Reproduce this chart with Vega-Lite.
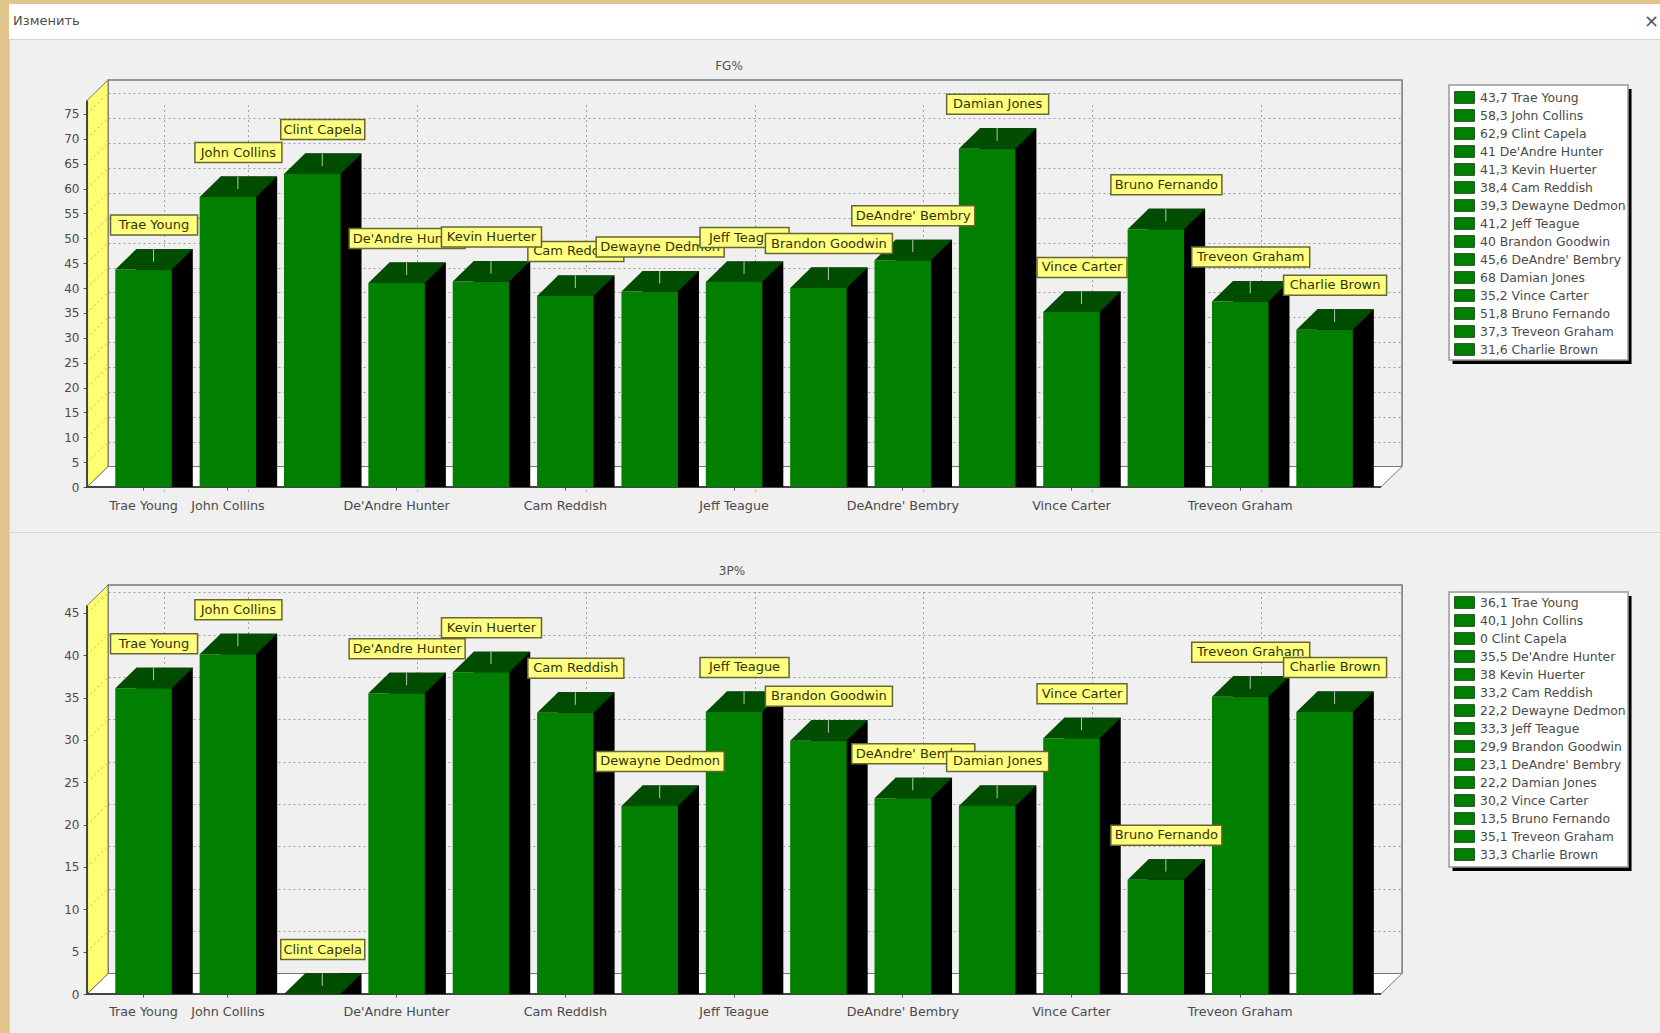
{
"$schema":"https://vega.github.io/schema/vega-lite/v6.json",
"background":"#e2c48d",
"padding":{"left":8,"top":4,"right":0,"bottom":0},
"bounds":"flush",
"spacing":0,
"config":{"font":"DejaVu Sans","axis":{"labelFont":"DejaVu Sans","labelFontSize":12,"labelColor":"#4a4a4a"},"legend":{"labelFont":"DejaVu Sans"}},
"datasets":{
"fg":[
{"player":"Trae Young","value":43.7,"entry":"43,7 Trae Young"},
{"player":"John Collins","value":58.3,"entry":"58,3 John Collins"},
{"player":"Clint Capela","value":62.9,"entry":"62,9 Clint Capela"},
{"player":"De'Andre Hunter","value":41,"entry":"41 De'Andre Hunter"},
{"player":"Kevin Huerter","value":41.3,"entry":"41,3 Kevin Huerter"},
{"player":"Cam Reddish","value":38.4,"entry":"38,4 Cam Reddish"},
{"player":"Dewayne Dedmon","value":39.3,"entry":"39,3 Dewayne Dedmon"},
{"player":"Jeff Teague","value":41.2,"entry":"41,2 Jeff Teague"},
{"player":"Brandon Goodwin","value":40,"entry":"40 Brandon Goodwin"},
{"player":"DeAndre' Bembry","value":45.6,"entry":"45,6 DeAndre' Bembry"},
{"player":"Damian Jones","value":68,"entry":"68 Damian Jones"},
{"player":"Vince Carter","value":35.2,"entry":"35,2 Vince Carter"},
{"player":"Bruno Fernando","value":51.8,"entry":"51,8 Bruno Fernando"},
{"player":"Treveon Graham","value":37.3,"entry":"37,3 Treveon Graham"},
{"player":"Charlie Brown","value":31.6,"entry":"31,6 Charlie Brown"}
],
"tp":[
{"player":"Trae Young","value":36.1,"entry":"36,1 Trae Young"},
{"player":"John Collins","value":40.1,"entry":"40,1 John Collins"},
{"player":"Clint Capela","value":0,"entry":"0 Clint Capela"},
{"player":"De'Andre Hunter","value":35.5,"entry":"35,5 De'Andre Hunter"},
{"player":"Kevin Huerter","value":38,"entry":"38 Kevin Huerter"},
{"player":"Cam Reddish","value":33.2,"entry":"33,2 Cam Reddish"},
{"player":"Dewayne Dedmon","value":22.2,"entry":"22,2 Dewayne Dedmon"},
{"player":"Jeff Teague","value":33.3,"entry":"33,3 Jeff Teague"},
{"player":"Brandon Goodwin","value":29.9,"entry":"29,9 Brandon Goodwin"},
{"player":"DeAndre' Bembry","value":23.1,"entry":"23,1 DeAndre' Bembry"},
{"player":"Damian Jones","value":22.2,"entry":"22,2 Damian Jones"},
{"player":"Vince Carter","value":30.2,"entry":"30,2 Vince Carter"},
{"player":"Bruno Fernando","value":13.5,"entry":"13,5 Bruno Fernando"},
{"player":"Treveon Graham","value":35.1,"entry":"35,1 Treveon Graham"},
{"player":"Charlie Brown","value":33.3,"entry":"33,3 Charlie Brown"}
],
"bar":[{"pos":0,"label":"Изменить"},{"pos":1,"label":"×"}]
},
"resolve":{"scale":{"color":"independent","size":"independent"},"legend":{"color":"independent"}},
"vconcat":[
{
"width":1652,"height":35,
"view":{"fill":"#ffffff","stroke":null},
"data":{"name":"bar"},
"encoding":{"x":{"field":"pos","type":"quantitative","scale":{"domain":[0,1],"nice":false},"axis":null},"text":{"field":"label"}},
"layer":[
{"transform":[{"filter":"datum.pos==0"}],"mark":{"type":"text","align":"left","dx":4,"dy":-1,"fontSize":13,"color":"#505050"}},
{"transform":[{"filter":"datum.pos==1"}],"mark":{"type":"text","align":"right","dx":-2,"fontSize":18,"color":"#505050"}}
]
},
{
"width":1652,"height":493,
"view":{"fill":"#f0f0f0","stroke":"#d4d4d4"},
"title":{"text":"FG%","frame":"group","anchor":"middle","dx":-106,"offset":-34,"fontSize":12,"fontWeight":"normal","color":"#505050"},
"data":{"name":"fg"},
"resolve":{"scale":{"x":"independent","y":"independent"},"axis":{"x":"independent","y":"independent"}},
"layer":[
{
"transform":[{"filter":"datum.player=='Trae Young'"}],
"mark":{"type":"point","shape":"M-56.5,0V-386.5H1237.5V0","size":4,"filled":false,"stroke":"#777777","strokeWidth":1.5,"opacity":1},
"encoding":{
"x":{"field":"player","type":"nominal","scale":{"type":"band","domain":["Trae Young","John Collins","Clint Capela","De'Andre Hunter","Kevin Huerter","Cam Reddish","Dewayne Dedmon","Jeff Teague","Brandon Goodwin","DeAndre' Bembry","Damian Jones","Vince Carter","Bruno Fernando","Treveon Graham","Charlie Brown"],"range":[99,1393],"paddingInner":0.33,"paddingOuter":0.3345,"align":0.502},"axis":{"orient":"bottom","grid":true,"gridColor":"#a0a0a0","gridDash":[2,3],"domain":false,"ticks":false,"labels":false,"title":null,"values":["Trae Young","John Collins","De'Andre Hunter","Cam Reddish","Jeff Teague","DeAndre' Bembry","Vince Carter","Treveon Graham"]}},
"y":{"datum":0,"type":"quantitative","scale":{"domain":[0,77.7],"range":[427.5,41],"nice":false},"axis":{"orient":"left","grid":true,"gridColor":"#a0a0a0","gridDash":[2,3],"domain":false,"ticks":false,"labels":false,"title":null,"values":[0,5,10,15,20,25,30,35,40,45,50,55,60,65,70,75]}}
}
},
{
"encoding":{
"x":{"field":"player","type":"nominal","scale":{"type":"band","domain":["Trae Young","John Collins","Clint Capela","De'Andre Hunter","Kevin Huerter","Cam Reddish","Dewayne Dedmon","Jeff Teague","Brandon Goodwin","DeAndre' Bembry","Damian Jones","Vince Carter","Bruno Fernando","Treveon Graham","Charlie Brown"],"range":[99,1393],"paddingInner":0.33,"paddingOuter":0.3345,"align":0.129},"axis":{"orient":"bottom","offset":-45,"domain":false,"tickSize":3,"tickColor":"#555555","labelAngle":0,"labelPadding":9,"labelFontSize":12.7,"labelOverlap":false,"labelLimit":0,"title":null,"values":["Trae Young","John Collins","De'Andre Hunter","Cam Reddish","Jeff Teague","DeAndre' Bembry","Vince Carter","Treveon Graham"]}},
"y":{"field":"value","type":"quantitative","stack":null,"scale":{"domain":[0,77.7],"range":[448,61.5],"nice":false},"axis":{"orient":"left","offset":-78,"domain":false,"grid":false,"tickSize":4,"tickColor":"#555555","labelPadding":4,"title":null,"values":[0,5,10,15,20,25,30,35,40,45,50,55,60,65,70,75]}}
},
"layer":[
{"transform":[{"filter":"datum.player=='Trae Young'"}],"mark":{"type":"point","shape":"M-56.5,0H1237.5L1258.5,-20.5H-35.5Z","size":4,"filled":true,"fill":"#ffffff","stroke":"#777777","strokeWidth":1,"opacity":1},"encoding":{"y":{"datum":0,"type":"quantitative"}}},
{"transform":[{"filter":"datum.player=='Trae Young'"}],"mark":{"type":"point","shape":"M-56.5,0L-35.5,-20.5V-407L-56.5,-386.5Z","size":4,"filled":true,"fill":"#ffff70","stroke":"#777777","strokeWidth":1,"opacity":1},"encoding":{"y":{"datum":0,"type":"quantitative"}}},
{"transform":[{"filter":"datum.player=='Trae Young'"}],"mark":{"type":"point","shape":"M-56.5,-24.9l21,-20.5M-56.5,-49.8l21,-20.5M-56.5,-74.6l21,-20.5M-56.5,-99.5l21,-20.5M-56.5,-124.4l21,-20.5M-56.5,-149.3l21,-20.5M-56.5,-174.2l21,-20.5M-56.5,-199l21,-20.5M-56.5,-223.9l21,-20.5M-56.5,-248.8l21,-20.5M-56.5,-273.7l21,-20.5M-56.5,-298.6l21,-20.5M-56.5,-323.4l21,-20.5M-56.5,-348.3l21,-20.5M-56.5,-373.2l21,-20.5","size":4,"filled":false,"stroke":"#b9b94a","strokeWidth":1,"strokeDash":[2,3],"opacity":1},"encoding":{"y":{"datum":0,"type":"quantitative"}}},
{"transform":[{"filter":"datum.player=='Trae Young'"}],"mark":{"type":"point","shape":"M-56.5,-386.5V0H1237.5","size":4,"filled":false,"stroke":"#444444","strokeWidth":2,"opacity":1},"encoding":{"y":{"datum":0,"type":"quantitative"}}},
{"transform":[{"filter":"datum.player=='Trae Young'"}],"mark":{"type":"point","shape":"M1309,-398H1488V-123H1309Z","size":4,"filled":true,"fill":"#000000","strokeWidth":0,"opacity":1},"encoding":{"y":{"datum":0,"type":"quantitative"}}},
{"transform":[{"filter":"datum.player=='Trae Young'"}],"mark":{"type":"point","shape":"M1305.5,-402H1484.5V-127H1305.5Z","size":4,"filled":true,"fill":"#ffffff","stroke":"#999999","strokeWidth":1.5,"opacity":1},"encoding":{"y":{"datum":0,"type":"quantitative"}}},
{"mark":{"type":"bar","fill":"#000000","xOffset":21,"yOffset":-20.5}},
{"mark":{"type":"point","shape":"M28.25,0L49.25,-20.5H28.25Z","size":4,"filled":true,"fill":"#000000","strokeWidth":0,"opacity":1},"encoding":{"y":{"datum":0,"type":"quantitative"}}},
{"mark":{"type":"bar"},"encoding":{"color":{"field":"entry","type":"nominal","sort":null,"scale":{"range":["#007f00"]},"legend":{"orient":"none","legendX":1446,"legendY":49,"title":null,"padding":0,"columns":1,"symbolType":"M-1.1,-0.65H1.1V0.65H-1.1Z","symbolSize":324,"symbolStrokeColor":"#1c4d1c","symbolStrokeWidth":1,"symbolOpacity":1,"labelOffset":6,"labelFontSize":12.4,"labelColor":"#4a4a4a","rowPadding":0,"labelLimit":170}}}},
{"mark":{"type":"point","shape":"M-28.25,0L-7.25,-20.5H49.25L28.25,0Z","size":4,"filled":true,"fill":"#004d00","strokeWidth":0,"opacity":1}},
{"mark":{"type":"point","shape":"M10,-20.5V-8","size":4,"filled":false,"stroke":"#b5c8b5","strokeWidth":1,"opacity":1}},
{"transform":[{"filter":{"field":"player","oneOf":["John Collins","De'Andre Hunter","Cam Reddish","DeAndre' Bembry","Vince Carter","Treveon Graham"]}}],"mark":{"type":"tick","thickness":20,"fill":"#ffff80","stroke":"#666633","strokeWidth":1.5,"opacity":1,"xOffset":10.5,"yOffset":-44.5},"encoding":{"size":{"field":"player","type":"nominal","legend":null,"scale":{"type":"ordinal","domain":["Trae Young","John Collins","Clint Capela","De'Andre Hunter","Kevin Huerter","Cam Reddish","Dewayne Dedmon","Jeff Teague","Brandon Goodwin","DeAndre' Bembry","Damian Jones","Vince Carter","Bruno Fernando","Treveon Graham","Charlie Brown"],"range":[87,87,84,116,100,96,128,89,127,123,102,90,111,118,103]}}}},
{"transform":[{"filter":{"field":"player","oneOf":["John Collins","De'Andre Hunter","Cam Reddish","DeAndre' Bembry","Vince Carter","Treveon Graham"]}}],"mark":{"type":"text","dx":10.5,"dy":-44.5,"fontSize":13,"color":"#333300"},"encoding":{"text":{"field":"player"}}},
{"transform":[{"filter":{"field":"player","oneOf":["Trae Young","Clint Capela","Kevin Huerter","Dewayne Dedmon","Damian Jones","Bruno Fernando","Charlie Brown"]}}],"mark":{"type":"tick","thickness":20,"fill":"#ffff80","stroke":"#666633","strokeWidth":1.5,"opacity":1,"xOffset":10.5,"yOffset":-44.5},"encoding":{"size":{"field":"player","type":"nominal","legend":null,"scale":{"type":"ordinal","domain":["Trae Young","John Collins","Clint Capela","De'Andre Hunter","Kevin Huerter","Cam Reddish","Dewayne Dedmon","Jeff Teague","Brandon Goodwin","DeAndre' Bembry","Damian Jones","Vince Carter","Bruno Fernando","Treveon Graham","Charlie Brown"],"range":[87,87,84,116,100,96,128,89,127,123,102,90,111,118,103]}}}},
{"transform":[{"filter":{"field":"player","oneOf":["Trae Young","Clint Capela","Kevin Huerter","Dewayne Dedmon","Damian Jones","Bruno Fernando","Charlie Brown"]}}],"mark":{"type":"text","dx":10.5,"dy":-44.5,"fontSize":13,"color":"#333300"},"encoding":{"text":{"field":"player"}}},
{"transform":[{"filter":{"field":"player","oneOf":["Jeff Teague"]}}],"mark":{"type":"tick","thickness":20,"fill":"#ffff80","stroke":"#666633","strokeWidth":1.5,"opacity":1,"xOffset":10.5,"yOffset":-44.5},"encoding":{"size":{"field":"player","type":"nominal","legend":null,"scale":{"type":"ordinal","domain":["Trae Young","John Collins","Clint Capela","De'Andre Hunter","Kevin Huerter","Cam Reddish","Dewayne Dedmon","Jeff Teague","Brandon Goodwin","DeAndre' Bembry","Damian Jones","Vince Carter","Bruno Fernando","Treveon Graham","Charlie Brown"],"range":[87,87,84,116,100,96,128,89,127,123,102,90,111,118,103]}}}},
{"transform":[{"filter":{"field":"player","oneOf":["Jeff Teague"]}}],"mark":{"type":"text","dx":10.5,"dy":-44.5,"fontSize":13,"color":"#333300"},"encoding":{"text":{"field":"player"}}},
{"transform":[{"filter":{"field":"player","oneOf":["Brandon Goodwin"]}}],"mark":{"type":"tick","thickness":20,"fill":"#ffff80","stroke":"#666633","strokeWidth":1.5,"opacity":1,"xOffset":10.5,"yOffset":-44.5},"encoding":{"size":{"field":"player","type":"nominal","legend":null,"scale":{"type":"ordinal","domain":["Trae Young","John Collins","Clint Capela","De'Andre Hunter","Kevin Huerter","Cam Reddish","Dewayne Dedmon","Jeff Teague","Brandon Goodwin","DeAndre' Bembry","Damian Jones","Vince Carter","Bruno Fernando","Treveon Graham","Charlie Brown"],"range":[87,87,84,116,100,96,128,89,127,123,102,90,111,118,103]}}}},
{"transform":[{"filter":{"field":"player","oneOf":["Brandon Goodwin"]}}],"mark":{"type":"text","dx":10.5,"dy":-44.5,"fontSize":13,"color":"#333300"},"encoding":{"text":{"field":"player"}}}
]
}
]
},
{
"width":1652,"height":501,
"view":{"fill":"#f0f0f0","stroke":"#d4d4d4"},
"title":{"text":"3P%","frame":"group","anchor":"middle","dx":-103,"offset":-46,"fontSize":12,"fontWeight":"normal","color":"#505050"},
"data":{"name":"tp"},
"resolve":{"scale":{"x":"independent","y":"independent"},"axis":{"x":"independent","y":"independent"}},
"layer":[
{
"transform":[{"filter":"datum.player=='Trae Young'"}],
"mark":{"type":"point","shape":"M-56.5,0V-388.5H1237.5V0","size":4,"filled":false,"stroke":"#777777","strokeWidth":1.5,"opacity":1},
"encoding":{
"x":{"field":"player","type":"nominal","scale":{"type":"band","domain":["Trae Young","John Collins","Clint Capela","De'Andre Hunter","Kevin Huerter","Cam Reddish","Dewayne Dedmon","Jeff Teague","Brandon Goodwin","DeAndre' Bembry","Damian Jones","Vince Carter","Bruno Fernando","Treveon Graham","Charlie Brown"],"range":[99,1393],"paddingInner":0.33,"paddingOuter":0.3345,"align":0.502},"axis":{"orient":"bottom","grid":true,"gridColor":"#a0a0a0","gridDash":[2,3],"domain":false,"ticks":false,"labels":false,"title":null,"values":["Trae Young","John Collins","De'Andre Hunter","Cam Reddish","Jeff Teague","DeAndre' Bembry","Vince Carter","Treveon Graham"]}},
"y":{"datum":0,"type":"quantitative","scale":{"domain":[0,45.87],"range":[441.5,53],"nice":false},"axis":{"orient":"left","grid":true,"gridColor":"#a0a0a0","gridDash":[2,3],"domain":false,"ticks":false,"labels":false,"title":null,"values":[0,5,10,15,20,25,30,35,40,45]}}
}
},
{
"encoding":{
"x":{"field":"player","type":"nominal","scale":{"type":"band","domain":["Trae Young","John Collins","Clint Capela","De'Andre Hunter","Kevin Huerter","Cam Reddish","Dewayne Dedmon","Jeff Teague","Brandon Goodwin","DeAndre' Bembry","Damian Jones","Vince Carter","Bruno Fernando","Treveon Graham","Charlie Brown"],"range":[99,1393],"paddingInner":0.33,"paddingOuter":0.3345,"align":0.129},"axis":{"orient":"bottom","offset":-39,"domain":false,"tickSize":3,"tickColor":"#555555","labelAngle":0,"labelPadding":8,"labelFontSize":12.7,"labelOverlap":false,"labelLimit":0,"title":null,"values":["Trae Young","John Collins","De'Andre Hunter","Cam Reddish","Jeff Teague","DeAndre' Bembry","Vince Carter","Treveon Graham"]}},
"y":{"field":"value","type":"quantitative","stack":null,"scale":{"domain":[0,45.87],"range":[462,73.5],"nice":false},"axis":{"orient":"left","offset":-78,"domain":false,"grid":false,"tickSize":4,"tickColor":"#555555","labelPadding":4,"title":null,"values":[0,5,10,15,20,25,30,35,40,45]}}
},
"layer":[
{"transform":[{"filter":"datum.player=='Trae Young'"}],"mark":{"type":"point","shape":"M-56.5,0H1237.5L1258.5,-20.5H-35.5Z","size":4,"filled":true,"fill":"#ffffff","stroke":"#777777","strokeWidth":1,"opacity":1},"encoding":{"y":{"datum":0,"type":"quantitative"}}},
{"transform":[{"filter":"datum.player=='Trae Young'"}],"mark":{"type":"point","shape":"M-56.5,0L-35.5,-20.5V-409L-56.5,-388.5Z","size":4,"filled":true,"fill":"#ffff70","stroke":"#777777","strokeWidth":1,"opacity":1},"encoding":{"y":{"datum":0,"type":"quantitative"}}},
{"transform":[{"filter":"datum.player=='Trae Young'"}],"mark":{"type":"point","shape":"M-56.5,-42.35l21,-20.5M-56.5,-84.7l21,-20.5M-56.5,-127.05l21,-20.5M-56.5,-169.4l21,-20.5M-56.5,-211.75l21,-20.5M-56.5,-254.1l21,-20.5M-56.5,-296.45l21,-20.5M-56.5,-338.8l21,-20.5M-56.5,-381.15l21,-20.5","size":4,"filled":false,"stroke":"#b9b94a","strokeWidth":1,"strokeDash":[2,3],"opacity":1},"encoding":{"y":{"datum":0,"type":"quantitative"}}},
{"transform":[{"filter":"datum.player=='Trae Young'"}],"mark":{"type":"point","shape":"M-56.5,-388.5V0H1237.5","size":4,"filled":false,"stroke":"#444444","strokeWidth":2,"opacity":1},"encoding":{"y":{"datum":0,"type":"quantitative"}}},
{"transform":[{"filter":"datum.player=='Trae Young'"}],"mark":{"type":"point","shape":"M1309,-398H1488V-123H1309Z","size":4,"filled":true,"fill":"#000000","strokeWidth":0,"opacity":1},"encoding":{"y":{"datum":0,"type":"quantitative"}}},
{"transform":[{"filter":"datum.player=='Trae Young'"}],"mark":{"type":"point","shape":"M1305.5,-402H1484.5V-127H1305.5Z","size":4,"filled":true,"fill":"#ffffff","stroke":"#999999","strokeWidth":1.5,"opacity":1},"encoding":{"y":{"datum":0,"type":"quantitative"}}},
{"mark":{"type":"bar","fill":"#000000","xOffset":21,"yOffset":-20.5}},
{"mark":{"type":"point","shape":"M28.25,0L49.25,-20.5H28.25Z","size":4,"filled":true,"fill":"#000000","strokeWidth":0,"opacity":1},"encoding":{"y":{"datum":0,"type":"quantitative"}}},
{"mark":{"type":"bar"},"encoding":{"color":{"field":"entry","type":"nominal","sort":null,"scale":{"range":["#007f00"]},"legend":{"orient":"none","legendX":1446,"legendY":61,"title":null,"padding":0,"columns":1,"symbolType":"M-1.1,-0.65H1.1V0.65H-1.1Z","symbolSize":324,"symbolStrokeColor":"#1c4d1c","symbolStrokeWidth":1,"symbolOpacity":1,"labelOffset":6,"labelFontSize":12.4,"labelColor":"#4a4a4a","rowPadding":0,"labelLimit":170}}}},
{"mark":{"type":"point","shape":"M-28.25,0L-7.25,-20.5H49.25L28.25,0Z","size":4,"filled":true,"fill":"#004d00","strokeWidth":0,"opacity":1}},
{"mark":{"type":"point","shape":"M10,-20.5V-8","size":4,"filled":false,"stroke":"#b5c8b5","strokeWidth":1,"opacity":1}},
{"transform":[{"filter":{"field":"player","oneOf":["John Collins","De'Andre Hunter","Cam Reddish","Jeff Teague","DeAndre' Bembry","Vince Carter","Treveon Graham"]}}],"mark":{"type":"tick","thickness":20,"fill":"#ffff80","stroke":"#666633","strokeWidth":1.5,"opacity":1,"xOffset":10.5,"yOffset":-44.5},"encoding":{"size":{"field":"player","type":"nominal","legend":null,"scale":{"type":"ordinal","domain":["Trae Young","John Collins","Clint Capela","De'Andre Hunter","Kevin Huerter","Cam Reddish","Dewayne Dedmon","Jeff Teague","Brandon Goodwin","DeAndre' Bembry","Damian Jones","Vince Carter","Bruno Fernando","Treveon Graham","Charlie Brown"],"range":[87,87,84,116,100,96,128,89,127,123,102,90,111,118,103]}}}},
{"transform":[{"filter":{"field":"player","oneOf":["John Collins","De'Andre Hunter","Cam Reddish","Jeff Teague","DeAndre' Bembry","Vince Carter","Treveon Graham"]}}],"mark":{"type":"text","dx":10.5,"dy":-44.5,"fontSize":13,"color":"#333300"},"encoding":{"text":{"field":"player"}}},
{"transform":[{"filter":{"field":"player","oneOf":["Trae Young","Clint Capela","Kevin Huerter","Dewayne Dedmon","Brandon Goodwin","Damian Jones","Bruno Fernando","Charlie Brown"]}}],"mark":{"type":"tick","thickness":20,"fill":"#ffff80","stroke":"#666633","strokeWidth":1.5,"opacity":1,"xOffset":10.5,"yOffset":-44.5},"encoding":{"size":{"field":"player","type":"nominal","legend":null,"scale":{"type":"ordinal","domain":["Trae Young","John Collins","Clint Capela","De'Andre Hunter","Kevin Huerter","Cam Reddish","Dewayne Dedmon","Jeff Teague","Brandon Goodwin","DeAndre' Bembry","Damian Jones","Vince Carter","Bruno Fernando","Treveon Graham","Charlie Brown"],"range":[87,87,84,116,100,96,128,89,127,123,102,90,111,118,103]}}}},
{"transform":[{"filter":{"field":"player","oneOf":["Trae Young","Clint Capela","Kevin Huerter","Dewayne Dedmon","Brandon Goodwin","Damian Jones","Bruno Fernando","Charlie Brown"]}}],"mark":{"type":"text","dx":10.5,"dy":-44.5,"fontSize":13,"color":"#333300"},"encoding":{"text":{"field":"player"}}}
]
}
]
}
]
}
